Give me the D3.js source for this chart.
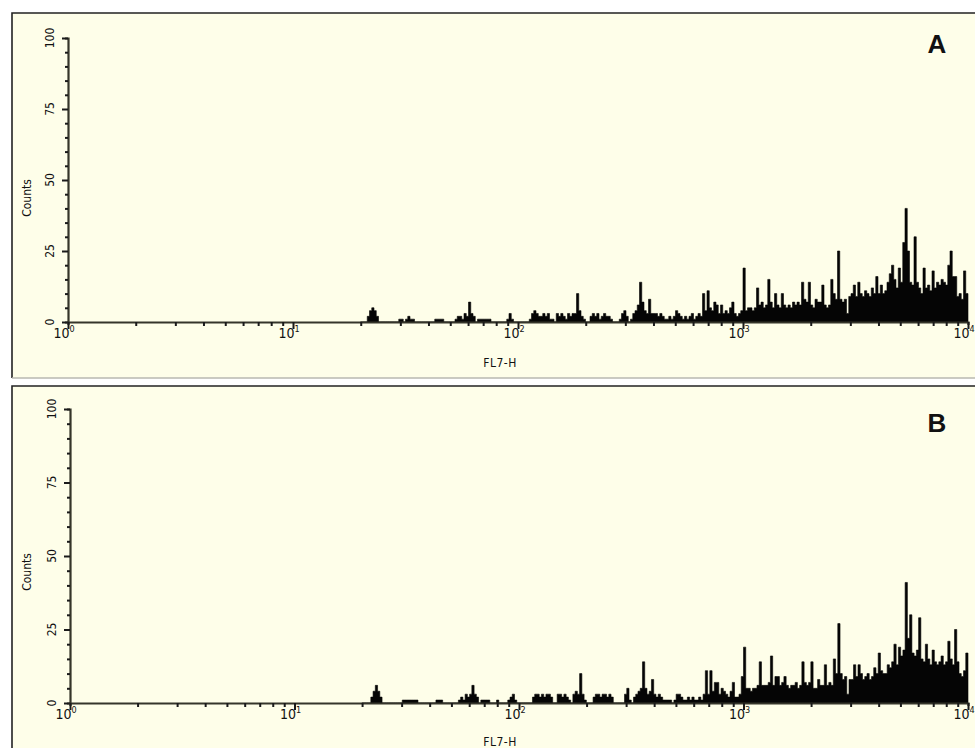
<!DOCTYPE html>
<html>
<head>
<meta charset="utf-8">
<script src="https://cdn.jsdelivr.net/npm/d3@7"></script>
<style>
  body { margin: 0; background: #fff; }
  svg { display: block; }
  text { font-family: "Liberation Sans Narrow", "DejaVu Sans Condensed", "Liberation Sans", sans-serif; fill: #111; }
</style>
</head>
<body>
<script>
// histogram bins: 100 bins per decade, first bin starts at 10^1.30
let logStart = 1.30;
let binsPerDecade = 100;

let countsA = [
  0,0,0,2,4,5,4,2,0,0,
  0,0,0,0,0,0,0,1,1,0,
  1,2,1,1,0,0,0,0,0,0,
  0,0,0,1,1,1,1,0,0,0,
  0,0,1,2,2,1,3,2,7,3,
  2,0,1,1,1,1,1,1,0,0,
  0,0,0,0,0,1,3,1,0,0,
  0,0,0,0,0,1,3,4,3,2,
  2,3,2,3,1,1,0,3,2,3,
  2,1,3,2,3,3,10,4,2,1,
  0,0,2,3,2,3,1,2,3,2,
  2,1,0,0,0,1,3,4,2,0,
  1,3,4,6,14,7,4,3,8,3,
  3,3,2,3,2,1,1,2,1,2,
  4,3,2,1,2,1,2,3,1,2,
  3,2,10,4,11,5,4,7,6,3,
  6,3,4,3,5,7,3,2,3,4,
  19,4,5,5,4,5,12,6,7,5,
  6,15,7,5,10,6,5,10,6,5,
  6,5,7,6,7,6,14,8,7,14,
  6,5,8,7,7,13,6,5,6,15,
  10,8,25,8,7,8,3,9,10,13,
  9,14,10,9,11,10,9,12,10,16,
  10,13,10,11,14,17,20,15,12,19,
  14,28,40,25,14,13,30,14,12,10,
  19,12,13,11,18,12,14,13,15,14,
  13,20,25,16,16,9,10,8,18,10
];

let countsB = [
  0,0,0,0,2,4,6,4,2,0,
  0,0,0,0,0,0,0,0,1,1,
  1,1,1,1,1,0,0,0,0,0,
  0,0,0,1,1,1,0,0,0,0,
  0,0,0,1,2,1,3,2,3,6,
  3,2,0,1,1,1,1,0,0,0,
  1,0,0,0,0,1,2,3,1,0,
  0,0,0,0,0,0,2,3,3,2,
  3,2,3,3,2,0,0,3,3,2,
  3,2,1,0,3,4,3,10,3,1,
  0,0,0,2,3,3,2,3,3,2,
  3,2,0,0,0,0,0,3,5,1,
  0,2,3,4,5,14,5,3,4,8,
  3,2,3,2,1,1,1,1,0,1,
  3,3,2,1,1,2,1,2,1,1,
  2,1,3,11,3,11,4,7,7,3,
  5,4,3,2,4,7,2,2,3,9,
  19,5,5,4,5,5,6,14,6,6,
  6,7,16,6,9,9,6,7,9,6,
  5,6,6,7,5,6,14,7,6,7,
  14,5,5,8,6,6,13,6,7,6,
  15,10,27,10,8,9,3,8,8,13,
  9,13,10,8,9,10,8,9,12,10,
  17,11,10,10,13,12,14,20,13,19,
  16,18,41,22,30,17,16,18,29,15,
  14,20,15,13,18,14,13,14,16,13,
  14,21,15,13,25,14,10,9,11,17
];

let yTicks = [0, 25, 50, 75, 100];
let decades = [0, 1, 2, 3, 4];
let panelLetters = ['A', 'B'];
let xTitle = 'FL7-H';
let yTitle = 'Counts';

let width = 975;
let height = 748;

let svg = d3.select('body')
  .append('svg')
  .attr('width', width)
  .attr('height', height);

let panels = [
  { letter: panelLetters[0], data: countsA, frameTop: 13, frameBottom: 378, frameStroke: '#b8b8b0',
    left: 68, right: 968, top: 38, bottom: 322, tickBase: 338, titleY: 367, countsY: 198, letterY: 53 },
  { letter: panelLetters[1], data: countsB, frameTop: 386, frameBottom: 760, frameStroke: '#222',
    left: 70, right: 968, top: 409, bottom: 703, tickBase: 719, titleY: 746, countsY: 572, letterY: 432 }
];

panels.forEach(function (p) {
  let g = svg.append('g');

  // frame
  g.append('rect')
    .attr('x', 12)
    .attr('y', p.frameTop)
    .attr('width', 1000)
    .attr('height', p.frameBottom - p.frameTop)
    .attr('fill', '#fefee9')
    .attr('stroke', 'none');
  g.append('path')
    .attr('d', 'M12,' + p.frameBottom + 'V' + p.frameTop + 'H980')
    .attr('fill', 'none')
    .attr('stroke', '#222')
    .attr('stroke-width', 1.6);
  g.append('path')
    .attr('d', 'M12,' + p.frameBottom + 'H980')
    .attr('fill', 'none')
    .attr('stroke', p.frameStroke)
    .attr('stroke-width', 1.4);

  let x = d3.scaleLog()
    .domain([1, 1e4])
    .range([p.left, p.right]);
  let y = d3.scaleLinear()
    .domain([0, 100])
    .range([p.bottom, p.top]);

  // histogram as a stepped area
  let bins = p.data.map(function (c, i) {
    return { lo: Math.pow(10, logStart + i / binsPerDecade), count: c };
  });
  bins.push({
    lo: Math.pow(10, logStart + p.data.length / binsPerDecade),
    count: p.data[p.data.length - 1]
  });

  let area = d3.area()
    .curve(d3.curveStepAfter)
    .x(function (d) { return x(d.lo); })
    .y0(y(0))
    .y1(function (d) { return y(d.count); });

  g.append('path')
    .attr('d', area(bins))
    .attr('fill', '#050505')
    .attr('stroke', '#050505')
    .attr('stroke-width', 0.6);

  // y axis: majors every 25, minors every 5
  let yAxis = d3.axisLeft(y)
    .tickValues(d3.range(0, 101, 5))
    .tickSize(3)
    .tickFormat('');
  let ya = g.append('g')
    .attr('transform', 'translate(' + p.left + ',0)')
    .call(yAxis);
  ya.select('.domain').attr('stroke', '#35352a').attr('stroke-width', 2.2);
  ya.selectAll('.tick line').attr('stroke', '#1a1a1a').attr('stroke-width', 2)
    .attr('x2', function (d) { return d % 25 === 0 ? -6 : -3; });

  g.selectAll('.ylab')
    .data(yTicks)
    .enter()
    .append('text')
    .attr('class', 'ylab')
    .attr('transform', function (d) { return 'translate(' + (p.left - 14) + ',' + y(d) + ') rotate(-90)'; })
    .attr('text-anchor', 'middle')
    .style('font-size', '12px')
    .style('font-stretch', 'condensed')
    .text(function (d) { return d; });

  // x axis: decades + minor ticks
  let minor = [];
  decades.slice(0, -1).forEach(function (e) {
    for (let k = 2; k <= 9; k++) minor.push(k * Math.pow(10, e));
  });
  let majors = decades.map(function (e) { return Math.pow(10, e); });
  let xAxis = d3.axisBottom(x)
    .tickValues(majors.concat(minor))
    .tickSize(3)
    .tickFormat('');
  let xa = g.append('g')
    .attr('transform', 'translate(0,' + p.bottom + ')')
    .call(xAxis);
  xa.select('.domain').attr('stroke', '#35352a').attr('stroke-width', 2.2);
  xa.selectAll('.tick line').attr('stroke', '#1a1a1a').attr('stroke-width', 2)
    .attr('y2', function (d) { return majors.indexOf(d) >= 0 ? 7 : 4; });

  let xl = g.selectAll('.xlab')
    .data(decades)
    .enter()
    .append('text')
    .attr('class', 'xlab')
    .attr('x', function (d) { return x(Math.pow(10, d)) - 4; })
    .attr('y', p.tickBase)
    .attr('text-anchor', 'middle')
    .style('font-size', '14px')
    .style('font-stretch', 'condensed');
  xl.append('tspan').text('10');
  xl.append('tspan')
    .attr('dy', -6)
    .style('font-size', '9px')
    .text(function (d) { return d; });

  // titles
  g.append('text')
    .attr('x', 500)
    .attr('y', p.titleY)
    .attr('text-anchor', 'middle')
    .style('font-size', '12px')
    .style('letter-spacing', '0.5px')
    .text(xTitle);
  g.append('text')
    .attr('transform', 'translate(31,' + p.countsY + ') rotate(-90)')
    .attr('text-anchor', 'middle')
    .style('font-size', '12px')
    .style('font-stretch', 'condensed')
    .text(yTitle);

  g.append('text')
    .attr('x', 937)
    .attr('y', p.letterY)
    .attr('text-anchor', 'middle')
    .style('font-family', 'Arial, "Liberation Sans", sans-serif')
    .style('font-weight', 'bold')
    .style('font-size', '26px')
    .text(p.letter);
});
</script>
</body>
</html>
